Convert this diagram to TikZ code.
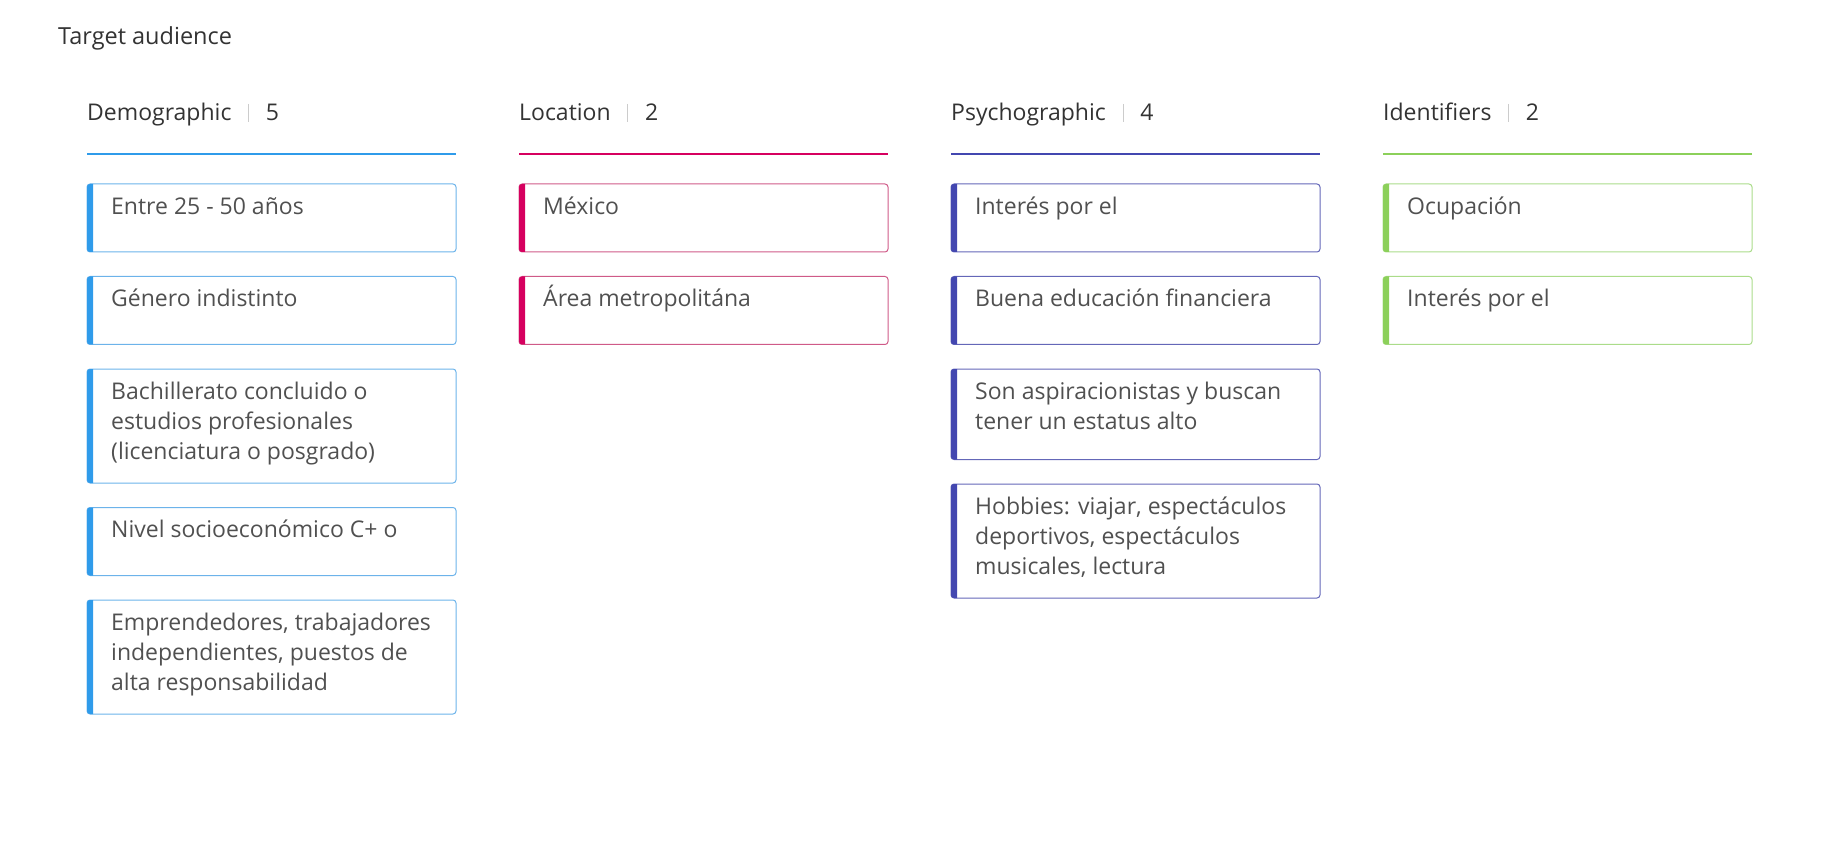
\documentclass[tikz,border=0pt]{standalone}
\usepackage{fontspec}
\setmainfont{Open Sans}
\usetikzlibrary{positioning,calc}

\definecolor{demoblue}{HTML}{2F9BEA}
\definecolor{demoline}{HTML}{6CB3EA}
\definecolor{locred}{HTML}{D6005F}
\definecolor{locline}{HTML}{CF5A88}
\definecolor{psyblue}{HTML}{4347B0}
\definecolor{psyline}{HTML}{6467B8}
\definecolor{idgreen}{HTML}{8CD05A}
\definecolor{idline}{HTML}{ABDC8A}
\definecolor{headtext}{HTML}{333333}
\definecolor{itemtext}{HTML}{505050}
\definecolor{sepgray}{HTML}{CCCCCC}

\tikzset{
  head/.style={anchor=base west, inner sep=0pt, text=headtext, font=\fontsize{23}{28}\selectfont},
  card/.style={draw=#1, rounded corners=3pt, line width=1pt, minimum width=369pt, inner sep=0pt, outer sep=0pt},
  oneline/.style={minimum height=68pt},
  twoline/.style={minimum height=90.5pt},
  threeline/.style={minimum height=114pt},
  cardtext/.style={anchor=north west, inner sep=0pt, text=itemtext, font=\fontsize{23}{30}\selectfont},
  sepline/.style={draw=sepgray, line width=1pt},
  rule/.style={draw=#1, line width=2pt}
}

% text of a card: first baseline 24pt below the top
\newcommand{\cardlines}[1]{\parbox[t]{330pt}{\raggedright\rule{0pt}{24pt}#1}}

\newcommand{\cardbar}[2]{%
  \begin{scope}
    \clip ([xshift=-1pt,yshift=1pt]#1.north west) rectangle ([xshift=6pt,yshift=-1pt]#1.south west);
    \fill[#2, rounded corners=3pt] (#1.north west) rectangle (#1.south east);
  \end{scope}}

\begin{document}
\begin{tikzpicture}[x=1pt,y=-1pt]
\useasboundingbox (0,0) rectangle (1837,850);

\node[head, font=\fontsize{23.5}{28}\selectfont] (title) at (58,45) {Target audience};

% column headers
\node[head] (demo) at (87,121) {Demographic};
\node[head, base right=34pt of demo] (demon) {5};
\node[head] (loc) at (519,121) {Location};
\node[head, base right=34pt of loc] (locn) {2};
\node[head] (psy) at (951,121) {Psychographic};
\node[head, base right=34pt of psy] (psyn) {4};
\node[head] (ids) at (1383,121) {Identifiers};
\node[head, base right=34pt of ids] (idsn) {2};

\draw[sepline] ($(demo.base east)!.5!(demon.base west)$) +(0,-17) -- +(0,1);
\draw[sepline] ($(loc.base east)!.5!(locn.base west)$) +(0,-17) -- +(0,1);
\draw[sepline] ($(psy.base east)!.5!(psyn.base west)$) +(0,-17) -- +(0,1);
\draw[sepline] ($(ids.base east)!.5!(idsn.base west)$) +(0,-17) -- +(0,1);

\draw[rule=demoblue] (87,154) -- (456,154);
\draw[rule=locred] (519,154) -- (888,154);
\draw[rule=psyblue] (951,154) -- (1320,154);
\draw[rule=idgreen] (1383,154) -- (1752,154);

% Demographic
\node[card=demoline, oneline, anchor=north west] (d1) at (87,184) {};
\node[card=demoline, oneline, below=24.5pt of d1] (d2) {};
\node[card=demoline, threeline, below=24.5pt of d2] (d3) {};
\node[card=demoline, oneline, below=24.5pt of d3] (d4) {};
\node[card=demoline, threeline, below=24.5pt of d4] (d5) {};

% Location
\node[card=locline, oneline, anchor=north west] (l1) at (519,184) {};
\node[card=locline, oneline, below=24.5pt of l1] (l2) {};

% Psychographic
\node[card=psyline, oneline, anchor=north west] (p1) at (951,184) {};
\node[card=psyline, oneline, below=24.5pt of p1] (p2) {};
\node[card=psyline, twoline, below=24.5pt of p2] (p3) {};
\node[card=psyline, threeline, below=24.5pt of p3] (p4) {};

% Identifiers
\node[card=idline, oneline, anchor=north west] (i1) at (1383,184) {};
\node[card=idline, oneline, below=24.5pt of i1] (i2) {};

\foreach \n/\c in {d1/demoblue,d2/demoblue,d3/demoblue,d4/demoblue,d5/demoblue,
  l1/locred,l2/locred,p1/psyblue,p2/psyblue,p3/psyblue,p4/psyblue,i1/idgreen,i2/idgreen}
  {\cardbar{\n}{\c}}

\node[cardtext] at ([xshift=24pt,yshift=-6pt]d1.north west) {\cardlines{Entre 25 - 50 años}};
\node[cardtext] at ([xshift=24pt,yshift=-6pt]d2.north west) {\cardlines{Género indistinto}};
\node[cardtext] at ([xshift=24pt,yshift=-6pt]d3.north west) {\cardlines{Bachillerato concluido o\\estudios profesionales\\(licenciatura o posgrado)}};
\node[cardtext] at ([xshift=24pt,yshift=-6pt]d4.north west) {\cardlines{Nivel socioeconómico C+ o}};
\node[cardtext] at ([xshift=24pt,yshift=-6pt]d5.north west) {\cardlines{Emprendedores, trabajadores\\independientes, puestos de\\alta responsabilidad}};

\node[cardtext] at ([xshift=24pt,yshift=-6pt]l1.north west) {\cardlines{México}};
\node[cardtext] at ([xshift=24pt,yshift=-6pt]l2.north west) {\cardlines{Área metropolitána}};

\node[cardtext] at ([xshift=24pt,yshift=-6pt]p1.north west) {\cardlines{Interés por el}};
\node[cardtext] at ([xshift=24pt,yshift=-6pt]p2.north west) {\cardlines{Buena educación financiera}};
\node[cardtext] at ([xshift=24pt,yshift=-6pt]p3.north west) {\cardlines{Son aspiracionistas y buscan\\tener un estatus alto}};
\node[cardtext] at ([xshift=24pt,yshift=-6pt]p4.north west) {\cardlines{Hobbies: viajar, espectáculos\\deportivos, espectáculos\\musicales, lectura}};

\node[cardtext] at ([xshift=24pt,yshift=-6pt]i1.north west) {\cardlines{Ocupación}};
\node[cardtext] at ([xshift=24pt,yshift=-6pt]i2.north west) {\cardlines{Interés por el}};

\end{tikzpicture}
\end{document}
